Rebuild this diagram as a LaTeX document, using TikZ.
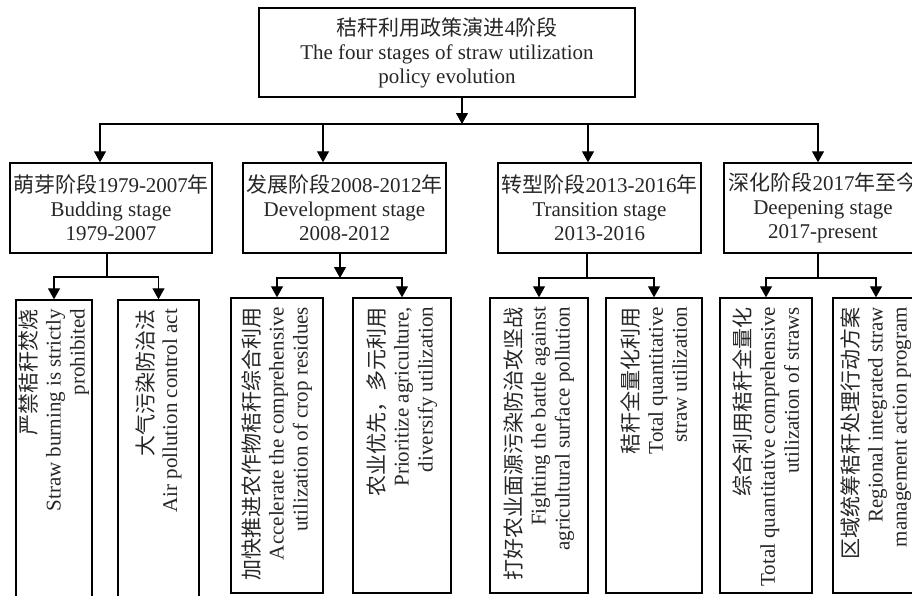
\documentclass[tikz,border=0pt]{standalone}
\usepackage{fontspec}
\setmainfont{Liberation Serif}
\newfontfamily\cjk{Noto Sans CJK SC}
\usetikzlibrary{arrows.meta}

\begin{document}
\begin{tikzpicture}[x=1pt, y=-1pt,
  font=\fontsize{21pt}{24pt}\selectfont, text=black!85,
  block/.style={rectangle, draw, line width=1.4pt, minimum width=202pt, minimum height=90pt, align=center, inner sep=0pt},
  leaf/.style={rectangle, draw, line width=1.4pt, rotate=90, minimum width=295pt, text width=277pt, inner xsep=9pt, inner ysep=0pt, align=flush right},
  link/.style={line width=1.1pt, -{Triangle[width=12pt, length=11pt]}},
  line/.style={line width=1.1pt}]
  \useasboundingbox (0,0) rectangle (912,595);
  \clip (0,0) rectangle (912,595);

    \node[block, minimum width=376pt, minimum height=89pt] (top) at (447,52.5) {{\cjk 秸秆利用政策演进}4{\cjk 阶段}\\The four stages of straw utilization\\policy evolution};

    \node[block] (s1) at (111,208) {{\cjk 萌芽阶段}1979-2007{\cjk 年}\\Budding stage\\1979-2007};
    \node[block, minimum width=203pt] (s2) at (344.5,208) {{\cjk 发展阶段}2008-2012{\cjk 年}\\Development stage\\2008-2012};
    \node[block, minimum width=203pt] (s3) at (599.5,208) {{\cjk 转型阶段}2013-2016{\cjk 年}\\Transition stage\\2013-2016};
    \node[block, minimum width=198pt] (s4) at (823,208) {{\cjk 深化阶段}2017{\cjk 年至今}\\Deepening stage\\2017-present};

    \node[leaf, minimum width=340pt, text width=322pt, minimum height=76pt] (l1a) at (54,470) {{\cjk 严禁秸秆焚烧}\\Straw burning is strictly\\prohibited};
    \node[leaf, minimum width=340pt, text width=322pt, minimum height=81pt] (l1b) at (158.5,470) {{\cjk 大气污染防治法}\\Air pollution control act};
    \node[leaf, minimum height=92pt] (l2a) at (277,445.5) {{\cjk 加快推进农作物秸秆综合利用}\\Accelerate the comprehensive\\utilization of crop residues};
    \node[leaf, minimum height=98pt] (l2b) at (402,445.5) {{\cjk 农业优先，多元利用}\\Prioritize agriculture,\\diversify utilization};
    \node[leaf, minimum height=98pt] (l3a) at (539,445.5) {{\cjk 打好农业面源污染防治攻坚战}\\Fighting the battle against\\agricultural surface pollution};
    \node[leaf, minimum height=96pt] (l3b) at (654,445.5) {{\cjk 秸秆全量化利用}\\Total quantitative\\straw utilization};
    \node[leaf, minimum height=92pt] (l4a) at (766,445.5) {{\cjk 综合利用秸秆全量化}\\\makebox[\hsize][r]{Total quantitative comprehensive}\\utilization of straws};
    \node[leaf, minimum height=86pt] (l4b) at (876,445.5) {{\cjk 区域统筹秸秆处理行动方案}\\Regional integrated straw\\management action program};

    \coordinate (hub) at (462,124);
    \draw[link] (top.south -| hub) -- (hub);
    \draw[link] (hub) -| ([xshift=-11pt]s1.north);
    \draw[link] (hub) -| ([xshift=-21.5pt]s2.north);
    \draw[link] (hub) -| ([xshift=-11.5pt]s3.north);
    \draw[link] (hub) -| ([xshift=-5pt]s4.north);

    \coordinate (j1) at (107,277);
    \coordinate (j2) at (340,278);
    \coordinate (j3) at (587,278);
    \coordinate (j4) at (818,278);

    \draw[line] (s1.south -| j1) -- (j1);
    \draw[link] (j1) -| (l1a.east);
    \draw[link] (j1) -| (l1b.east);

    \draw[link] (s2.south -| j2) -- (j2);
    \draw[link] (j2) -| (l2a.east);
    \draw[link] (j2) -| (l2b.east);

    \draw[line] (s3.south -| j3) -- (j3);
    \draw[link] (j3) -| (l3a.east);
    \draw[link] (j3) -| (l3b.east);

    \draw[line] (s4.south -| j4) -- (j4);
    \draw[link] (j4) -| (l4a.east);
    \draw[link] (j4) -| (l4b.east);
\end{tikzpicture}
\end{document}
